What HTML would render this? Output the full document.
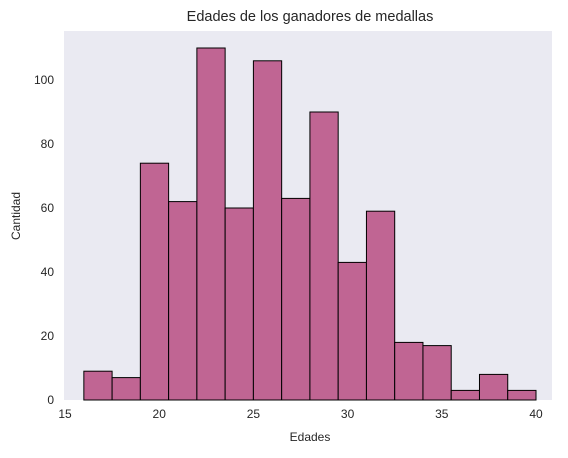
<!DOCTYPE html>
<html><head><meta charset="utf-8"><style>
body{margin:0;background:#fff;font-family:"Liberation Sans","DejaVu Sans",sans-serif}
</style></head><body>
<svg id="c" width="568" height="453" xmlns="http://www.w3.org/2000/svg">
<rect x="64" y="31" width="488" height="369" fill="#eaeaf2"/>
<text x="310" y="21" font-size="14.5" text-anchor="middle" fill="#262626">Edades de los ganadores de medallas</text>
<text x="310" y="441" font-size="12" text-anchor="middle" fill="#262626">Edades</text>
<text x="20" y="216" font-size="12" text-anchor="middle" fill="#262626" transform="rotate(-90 20 216)">Cantidad</text>
<g id="bars"></g><g id="xt"></g><g id="yt"></g>
</svg>
<script>
const binStart=16, binWidth=1.5;
const counts=[9,7,74,62,110,60,106,63,90,43,59,18,17,3,8,3];
const xTicks=[15,20,25,30,35,40];
const yTicks=[0,20,40,60,80,100];
const ns="http://www.w3.org/2000/svg";
const X=v=>65+(v-15)*18.84;
const Y=v=>400-v*3.2;
const bars=document.getElementById('bars');
counts.forEach((c,i)=>{
 const r=document.createElementNS(ns,'rect');
 const x0=X(binStart+i*binWidth),x1=X(binStart+(i+1)*binWidth);
 r.setAttribute('x',x0);r.setAttribute('y',Y(c));
 r.setAttribute('width',x1-x0);r.setAttribute('height',Y(0)-Y(c));
 r.setAttribute('fill','#c06593');r.setAttribute('stroke','#000');r.setAttribute('stroke-width','1');
 
 
 bars.appendChild(r);
});
const xt=document.getElementById('xt');
xTicks.forEach(t=>{
 const e=document.createElementNS(ns,'text');
 e.setAttribute('x',X(t));e.setAttribute('y',418);e.setAttribute('font-size','12');
 e.setAttribute('text-anchor','middle');e.setAttribute('fill','#262626');e.textContent=t;
 
 
 xt.appendChild(e);
});
const yt=document.getElementById('yt');
yTicks.forEach(t=>{
 const e=document.createElementNS(ns,'text');
 e.setAttribute('x',54);e.setAttribute('y',Y(t)+4);e.setAttribute('font-size','12');
 e.setAttribute('text-anchor','end');e.setAttribute('fill','#262626');e.textContent=t;
 
 
 yt.appendChild(e);
});
</script>
</body></html>
